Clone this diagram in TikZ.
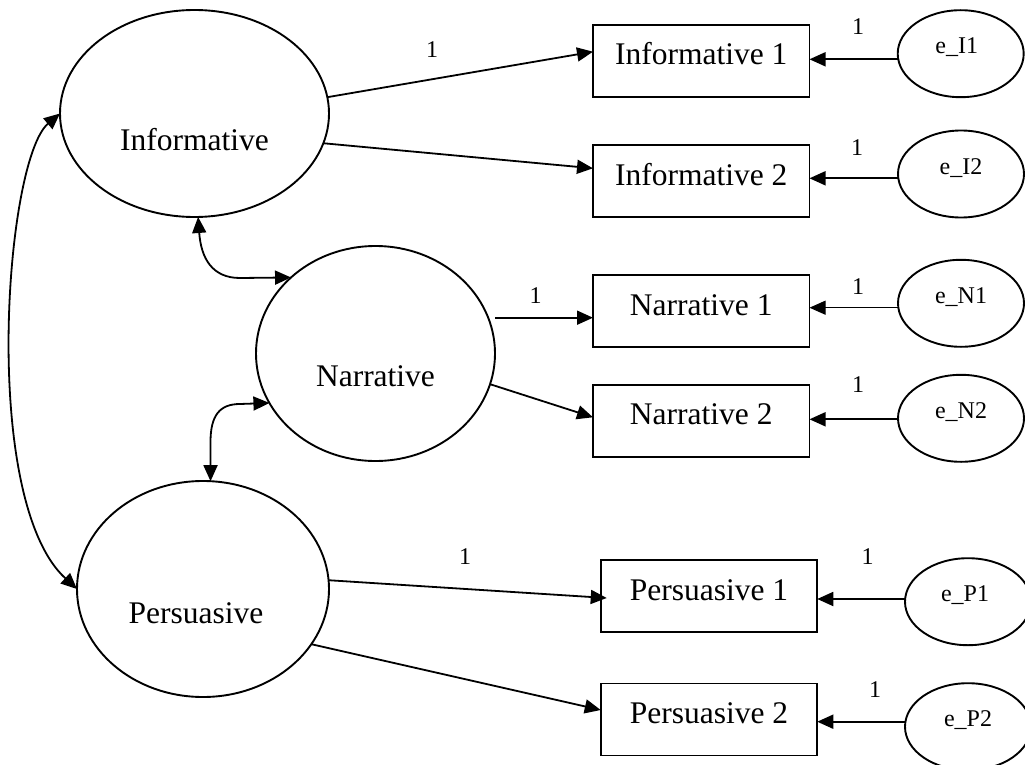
\documentclass[tikz,border=0pt]{standalone}
\usepackage{fontspec}
\setmainfont{Liberation Serif}
\usetikzlibrary{arrows.meta,shapes.geometric}

\begin{document}
\begin{tikzpicture}[x=1pt,y=-1pt,
  lat/.style={draw,ellipse,line width=1.9pt,inner sep=0pt,outer sep=0pt,
    font=\fontsize{31.5}{38}\selectfont,text depth=0pt},
  obs/.style={draw,rectangle,line width=1.9pt,inner sep=0pt,outer sep=0pt,
    minimum width=216.5pt,minimum height=72pt,
    font=\fontsize{31.5}{38}\selectfont,text height=22pt,text depth=14pt},
  err/.style={draw,ellipse,line width=1.9pt,inner sep=0pt,outer sep=0pt,
    minimum width=126pt,minimum height=87pt,
    font=\fontsize{24}{28}\selectfont,text height=16pt,text depth=16pt},
  lab/.style={inner sep=0pt,font=\fontsize{24}{28}\selectfont},
  tip/.tip={Triangle[length=16pt,width=14pt]},
  load/.style={line width=1.8pt,-tip},
  cov/.style={line width=1.8pt,tip-tip},
]
\useasboundingbox (0,0) rectangle (1025,765);

% latent factors
\node[lat,minimum width=269pt,minimum height=207pt,text height=74pt] (inf) at (194.5,113.5) {Informative};
\node[lat,minimum width=239pt,minimum height=215pt,text height=65pt] (nar) at (375.5,353.5) {Narrative};
\node[lat,minimum width=252pt,minimum height=216pt,text height=68pt] (per) at (203,589) {\kern-14pt Persuasive};

% indicators
\node[obs] (i1) at (701.25,61)    {Informative 1};
\node[obs] (i2) at (701.25,181)   {Informative 2};
\node[obs] (n1) at (701.25,311)   {Narrative 1};
\node[obs] (n2) at (701.25,420.8) {Narrative 2};
\node[obs] (p1) at (709,596.3)    {Persuasive 1};
\node[obs] (p2) at (709,719.5)    {Persuasive 2};

% error terms
\node[err] (eI1) at (960.7,53.7) {\kern-8pt e\_I1};
\node[err] (eI2) at (961,174)    {e\_I2};
\node[err] (eN1) at (961,303.3)  {e\_N1};
\node[err] (eN2) at (961,418.3)  {e\_N2};
\node[err] (eP1) at (968,601.7)  {\kern-6pt e\_P1};
\node[err] (eP2) at (968,726.7)  {e\_P2};

% factor loadings
\draw[load] (inf.7) -- ([yshift=9.3pt]i1.west);
\draw[load] (inf.-13) -- ([yshift=12.7pt]i2.west);
\coordinate (n1in) at ([yshift=-6.7pt]n1.west);
\draw[load] (n1in -| nar.east) -- (n1in);
\draw[load] (nar.-15) -- ([yshift=3.5pt]n2.west);
\draw[load] (per.4.6) -- ([xshift=6pt,yshift=-1.7pt]p1.west);
\draw[load] (per.-27.5) -- ([yshift=9.5pt]p2.west);

% error paths
\coordinate (i1out) at ([yshift=1.7pt]i1.east);
\coordinate (i2out) at ([yshift=2.7pt]i2.east);
\coordinate (n1out) at ([yshift=3.3pt]n1.east);
\coordinate (n2out) at ([yshift=1.5pt]n2.east);
\coordinate (p1out) at ([yshift=-2.7pt]p1.east);
\coordinate (p2out) at ([yshift=-2.2pt]p2.east);
\draw[load] (eI1.west |- i1out) -- (i1out);
\draw[load] (eI2.west |- i2out) -- (i2out);
\draw[load,line width=1pt] (eN1.west |- n1out) -- (n1out);
\draw[load] (eN2.west |- n2out) -- (n2out);
\draw[load] (eP1.west |- p1out) -- (p1out);
\draw[load] (eP2.west |- p2out) -- (p2out);

% covariances
\draw[cov] (inf.-88) .. controls (201,258) and (212,278) .. (240,278) -- (nar.138.6);
\draw[cov] (per.86) -- (210.5,442) .. controls (210.5,415) and (220,404) .. (240,404) -- (nar.205.6);
\draw[cov] (inf.west) .. controls (5,160) and (-20,500) .. (per.west);

% fixed loadings
\node[lab] (f1) at (432,50)      {1};
\node[lab] (f2) at (535.6,296)   {1};
\node[lab] (f3) at (465,556.7)   {1};
\node[lab] (g1) at (858,27)      {1};
\node[lab] (g2) at (857,147.3)   {1};
\node[lab] (g3) at (858,286.7)   {1};
\node[lab] (g4) at (858,385)     {1};
\node[lab] (g5) at (867.7,556.7) {1};
\node[lab] (g6) at (875,690)     {1};
\end{tikzpicture}
\end{document}
